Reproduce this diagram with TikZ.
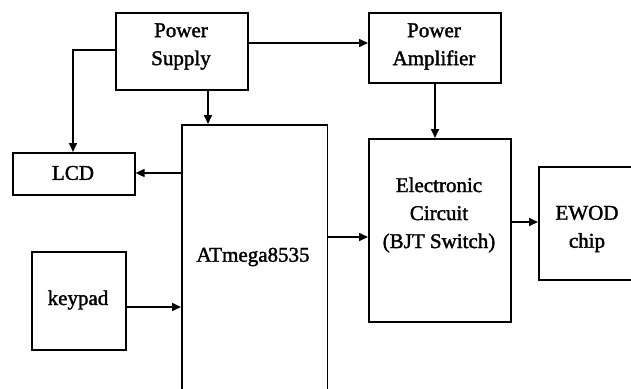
\documentclass[tikz,border=0pt]{standalone}
\usepackage{fontspec}
\setmainfont{Liberation Serif}
\newfontfamily\heavyserif[FakeBold=1.6]{Liberation Serif}
\usetikzlibrary{arrows.meta}
\begin{document}
\begin{tikzpicture}[x=1pt,y=-1pt,
  box/.style={draw,line width=1.6pt,inner sep=0pt,anchor=north west},
  lbl/.style={align=center,font=\fontsize{21}{28}\heavyserif,inner sep=0pt},
  arr/.style={line width=1.6pt,-{Triangle[length=9pt,width=8pt]}}]
\useasboundingbox[fill=white] (0,0) rectangle (631,388);
% boxes
\node[box,minimum width=132pt,minimum height=77pt] (ps) at (115,12) {};
\node[box,minimum width=132pt,minimum height=70pt] (pa) at (368,12) {};
\node[box,minimum width=122pt,minimum height=42pt] (lcd) at (12,152) {};
\node[box,minimum width=145.7pt,minimum height=300pt] (at) at (181,124) {};
\node[box,minimum width=94pt,minimum height=98pt] (kp) at (31,251) {};
\node[box,minimum width=142pt,minimum height=183pt] (ec) at (368,138) {};
\node[box,minimum width=110pt,minimum height=113pt] (ew) at (538,166) {};
% labels
\node[lbl] (pst) at (181,46.5) {Power\\Supply};
\node[lbl] (pat) at (434,46.5) {Power\\Amplifier};
\node[lbl] (lcdt) at (73,173) {LCD};
\node[lbl] (att) at (253,257) {ATmega8535};
\node[lbl] (kpt) at (78,300) {keypad};
\node[lbl] (ect) at (439,215) {Electronic\\Circuit\\(BJT Switch)};
\node[lbl] (ewt) at (587,229) {EWOD\\chip};
% level coordinates
\coordinate (y43) at (0,43);
\coordinate (y50) at (0,50);
\coordinate (x73) at (73,0);
\coordinate (x208) at (208,0);
\coordinate (y173) at (0,173);
\coordinate (y307) at (0,307);
\coordinate (x435) at (435,0);
\coordinate (y237) at (0,237);
\coordinate (y222) at (0,222);
% connectors
\draw[arr] (ps.east |- y43) -- (pa.west |- y43);
\draw[arr] (ps.west |- y50) -- (x73 |- y50) -- (x73 |- lcd.north);
\draw[arr] (x208 |- ps.south) -- (x208 |- at.north);
\draw[arr] (at.west |- y173) -- (lcd.east |- y173);
\draw[arr] (kp.east |- y307) -- (at.west |- y307);
\draw[arr] (x435 |- pa.south) -- (x435 |- ec.north);
\draw[arr] (at.east |- y237) -- (ec.west |- y237);
\draw[arr] (ec.east |- y222) -- (ew.west |- y222);
\end{tikzpicture}
\end{document}
